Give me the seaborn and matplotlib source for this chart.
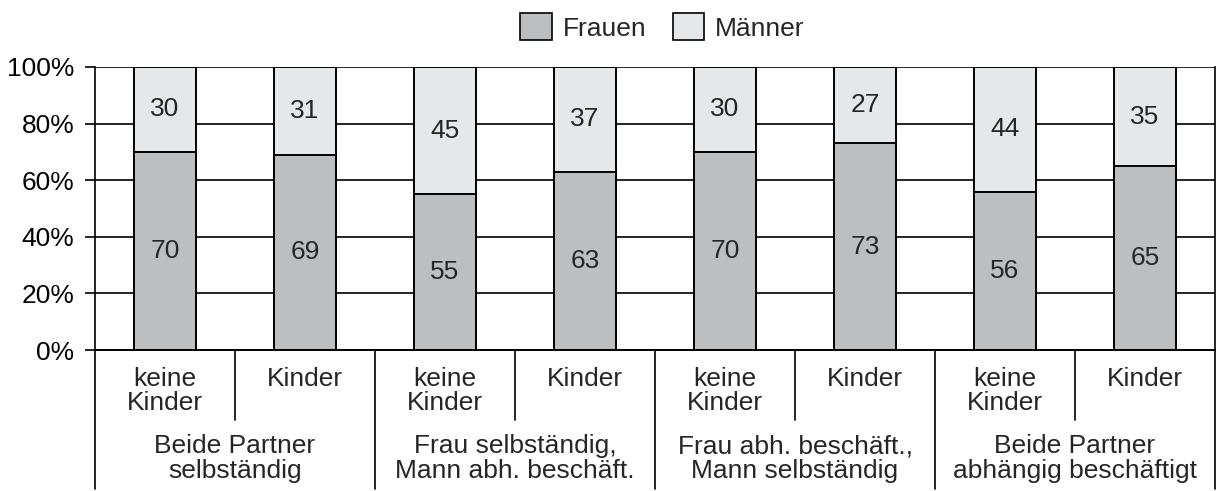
import pandas as pd
import numpy as np
import matplotlib
matplotlib.use("Agg")
import matplotlib.pyplot as plt
import matplotlib.transforms as mtransforms
from matplotlib.patches import Patch
import seaborn as sns

# Data
gruppen = ["Beide Partner\nselbständig", "Frau selbständig,\nMann abh. beschäft.",
           "Frau abh. beschäft.,\nMann selbständig", "Beide Partner\nabhängig beschäftigt"]
kinder = ["keine\nKinder", "Kinder"]
frauen = [70, 69, 55, 63, 70, 73, 56, 65]
maenner = [30, 31, 45, 37, 30, 27, 44, 35]
y_ticks = [0, 20, 40, 60, 80, 100]

c_frauen = "#bdbec0"
c_maenner = "#e6e7e8"
fs = 19

sns.set_theme(style="white")
plt.rcParams["font.family"] = ["Liberation Sans", "DejaVu Sans"]

df = pd.DataFrame({
    "pos": [str(i) for i in range(len(frauen))],
    "Frauen": frauen,
    "Männer": maenner,
})
df["Gesamt"] = df["Frauen"] + df["Männer"]

fig = plt.figure(figsize=(12.2, 4.91), dpi=100)
ax = fig.add_axes([95 / 1220, 141 / 491, 1120 / 1220, 283 / 491])

# Gridlines behind bars
for t in y_ticks:
    ax.axhline(t, color="black", lw=1.2, zorder=0)

# Stacked bars: full height (Männer) first, then Frauen on top
sns.barplot(data=df, x="pos", y="Gesamt", color=c_maenner, saturation=1,
            width=0.44, edgecolor="black", linewidth=1.4, ax=ax, zorder=2)
sns.barplot(data=df, x="pos", y="Frauen", color=c_frauen, saturation=1,
            width=0.44, edgecolor="black", linewidth=1.4, ax=ax, zorder=3)

# Value labels
for i in range(len(frauen)):
    ax.text(i, frauen[i] / 2, str(frauen[i]), ha="center", va="center", fontsize=fs, zorder=4)
    ax.text(i, frauen[i] + maenner[i] / 2, str(maenner[i]), ha="center", va="center",
            fontsize=fs, zorder=4)

ax.set_xlim(-0.5, len(frauen) - 0.5)
ax.set_ylim(0, 100)
ax.set_yticks(y_ticks)
ax.set_yticklabels([f"{t}%" for t in y_ticks], fontsize=fs)
ax.tick_params(axis="y", left=True, length=7, width=1.2, pad=8, colors="black")
ax.set_xticks([])
ax.set_xlabel("")
ax.set_ylabel("")
for s in ["top", "bottom"]:
    ax.spines[s].set_visible(False)
for s in ["left", "right"]:
    ax.spines[s].set_color("black")
    ax.spines[s].set_linewidth(1.2)

# Hierarchical category axis below
trans = mtransforms.blended_transform_factory(ax.transData, ax.transAxes)
ax.plot([-0.5, 7.5], [0, 0], color="black", lw=1.4, transform=trans, clip_on=False, zorder=5)
for x in [-0.5, 1.5, 3.5, 5.5, 7.5]:
    ax.plot([x, x], [0, -0.49], color="black", lw=1.2, transform=trans, clip_on=False)
for x in [0.5, 2.5, 4.5, 6.5]:
    ax.plot([x, x], [0, -0.247], color="black", lw=1.2, transform=trans, clip_on=False)
for i in range(len(frauen)):
    ax.text(i, -0.06, kinder[i % 2], ha="center", va="top", fontsize=fs,
            linespacing=0.98, transform=trans)
for g, name in enumerate(gruppen):
    ax.text(2 * g + 0.5, -0.297, name, ha="center", va="top", fontsize=fs,
            linespacing=1.05, transform=trans)

# Legend
handles = [Patch(facecolor=c_frauen, edgecolor="black", lw=1.2, label="Frauen"),
           Patch(facecolor=c_maenner, edgecolor="black", lw=1.2, label="Männer")]
fig.legend(handles=handles, loc="center", bbox_to_anchor=(0.543, 1 - 27 / 491), ncol=2,
           frameon=False, fontsize=fs, handlelength=1.2, handleheight=1.2,
           handletextpad=0.4, columnspacing=1.0, borderpad=0)

fig.savefig("out.png", dpi=100, facecolor="white")
